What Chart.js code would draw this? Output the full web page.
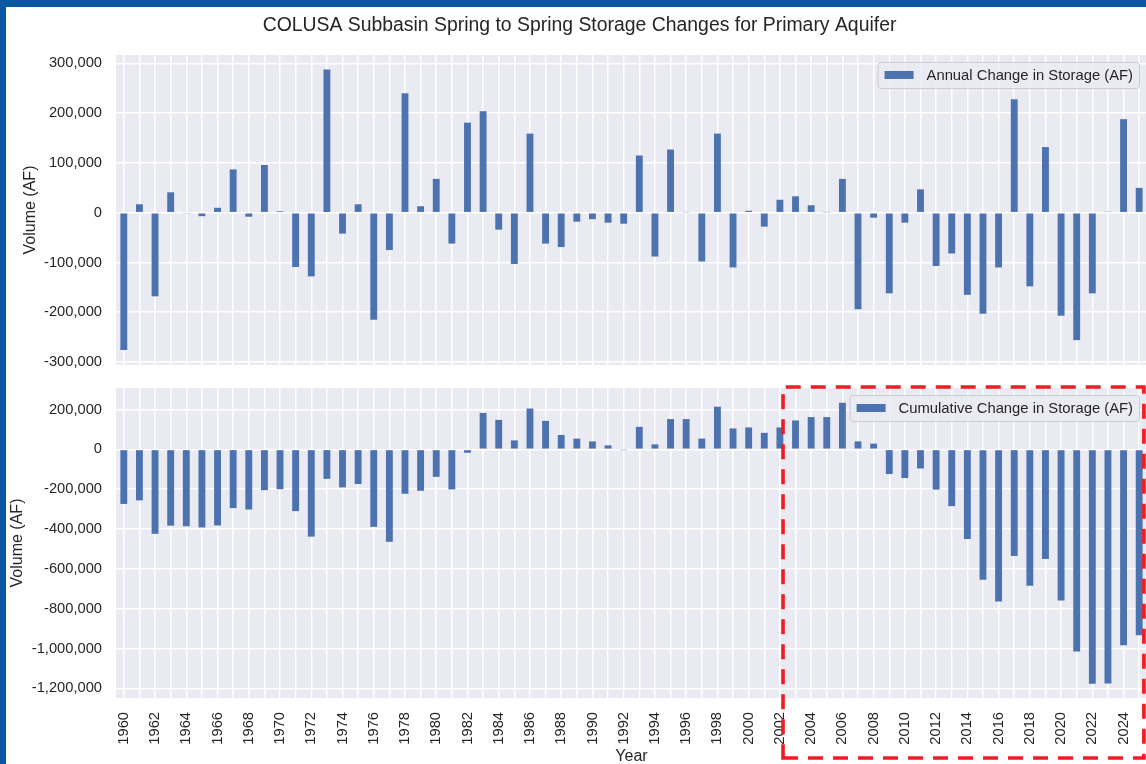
<!DOCTYPE html>
<html><head><meta charset="utf-8">
<script src="https://cdn.jsdelivr.net/npm/chart.js@4/dist/chart.umd.min.js"></script>
<style>
html,body{margin:0;padding:0;background:#fff;}
#wrap{position:relative;width:1146px;height:764px;overflow:hidden;background:#fff;}
#c1{position:absolute;left:0;top:0;}
#c2{position:absolute;left:0;top:380px;}
.frameTop{position:absolute;left:0;top:0;width:1146px;height:7px;background:#0b56a0;}
.frameLeft{position:absolute;left:0;top:0;width:6px;height:764px;background:#0b56a0;}
</style></head>
<body><div id="wrap">
<canvas id="c1" width="1148" height="380"></canvas>
<canvas id="c2" width="1148" height="400"></canvas>
<div class="frameTop"></div><div class="frameLeft"></div>
</div>
<script>
const years = ['1960','1961','1962','1963','1964','1965','1966','1967','1968','1969',
 '1970','1971','1972','1973','1974','1975','1976','1977','1978','1979',
 '1980','1981','1982','1983','1984','1985','1986','1987','1988','1989',
 '1990','1991','1992','1993','1994','1995','1996','1997','1998','1999',
 '2000','2001','2002','2003','2004','2005','2006','2007','2008','2009',
 '2010','2011','2012','2013','2014','2015','2016','2017','2018','2019',
 '2020','2021','2022','2023','2024','2025'];

const annualChange = [-276000,17000,-168000,41000,-2000,-7000,10000,87000,-8000,96000,
 3000,-109000,-128000,288000,-42000,17000,-215000,-75000,240000,13000,
 68000,-62000,181000,204000,-34000,-103000,159000,-62000,-69000,-18000,
 -13000,-20000,-22000,115000,-88000,127000,1000,-98000,159000,-110000,
 4000,-28000,26000,33000,15000,1000,68000,-194000,-10000,-162000,
 -20000,47000,-107000,-82000,-165000,-203000,-110000,228000,-148000,132000,
 -207000,-256000,-162000,2000,188000,50000];

const cumulativeChange = [-274000,-256000,-424000,-383000,-386000,-392000,-382000,-295000,-302000,-205000,
 -200000,-310000,-438000,-148000,-191000,-174000,-389000,-464000,-223000,-208000,
 -138000,-201000,-17000,183000,148000,45000,205000,143000,72000,54000,
 40000,20000,-2000,113000,25000,152000,152000,54000,214000,105000,
 110000,83000,110000,145000,162000,162000,234000,40000,29000,-124000,
 -144000,-96000,-202000,-285000,-450000,-655000,-764000,-535000,-684000,-550000,
 -758000,-1014000,-1177000,-1175000,-983000,-933000];

const annualTicks = [-300000,-200000,-100000,0,100000,200000,300000];
const cumulativeTicks = [-1200000,-1000000,-800000,-600000,-400000,-200000,0,200000];
const annualRange = [-306000, 317000];
const cumulativeRange = [-1248000, 308000];
const highlightFrom = '2002', highlightTo = '2025';

const FONT = '"Liberation Sans", Arial, Helvetica, sans-serif';
Chart.defaults.font.family = FONT;
Chart.defaults.color = '#262626';
Chart.defaults.animation = false;

const fmt = v => Number(v).toLocaleString('en-US');

const plotBg = {
  id: 'plotBg',
  beforeDraw(chart) {
    const {ctx, chartArea: a} = chart;
    ctx.save();
    ctx.fillStyle = '#EAEAF2';
    ctx.fillRect(a.left, a.top, a.width, a.height);
    ctx.restore();
  }
};

const innerLegend = {
  id: 'innerLegend',
  afterDatasetsDraw(chart) {
    const {ctx, chartArea: a} = chart;
    const ds = chart.data.datasets[0];
    ctx.save();
    ctx.font = '14.8px ' + FONT;
    const tw = ctx.measureText(ds.label).width;
    const w = 7 + 29 + 13 + tw + 6, h = 26;
    const x = a.right - 8 - w, y = a.top + 7;
    ctx.beginPath();
    ctx.roundRect(x + 0.5, y + 0.5, w, h, 3);
    ctx.fillStyle = 'rgba(234,234,242,0.85)';
    ctx.fill();
    ctx.strokeStyle = '#cccccc';
    ctx.lineWidth = 1;
    ctx.stroke();
    ctx.fillStyle = ds.backgroundColor;
    ctx.fillRect(x + 7, y + h / 2 - 4, 29, 8);
    ctx.fillStyle = '#262626';
    ctx.textBaseline = 'middle';
    ctx.textAlign = 'left';
    ctx.fillText(ds.label, x + 49, y + h / 2 + 0.5);
    ctx.restore();
  }
};

const highlightBox = {
  id: 'highlightBox',
  afterDraw(chart) {
    const {ctx, chartArea: a} = chart;
    const xs = chart.scales.x;
    const step = xs.getPixelForValue(1) - xs.getPixelForValue(0);
    const left = xs.getPixelForValue(years.indexOf(highlightFrom)) + 0.2 * step;
    const right = xs.getPixelForValue(years.indexOf(highlightTo)) + 0.3 * step;
    const top = a.top - 1;
    const bottom = a.bottom + 60;
    ctx.save();
    ctx.strokeStyle = '#ee1d23';
    ctx.lineWidth = 3.6;
    ctx.setLineDash([15, 10]);
    ctx.beginPath();
    ctx.moveTo(left, bottom);
    ctx.lineTo(right, bottom);
    ctx.lineTo(right, top);
    ctx.lineTo(left, top);
    ctx.closePath();
    ctx.stroke();
    ctx.restore();
  }
};

function makeChart(id, cfg) {
  return new Chart(document.getElementById(id), {
    type: 'bar',
    data: {
      labels: years,
      datasets: [{
        label: cfg.label,
        data: cfg.data,
        backgroundColor: '#4C72B0',
        barPercentage: 0.44,
        categoryPercentage: 1.0
      }]
    },
    options: {
      responsive: false,
      devicePixelRatio: 1,
      animation: false,
      layout: { padding: cfg.padding },
      plugins: {
        legend: { display: false },
        tooltip: { enabled: false },
        title: cfg.title ? {
          display: true, text: cfg.title, color: '#262626',
          font: { size: 19.4, weight: 'normal' },
          padding: { top: 13.9, bottom: 17.8 }
        } : { display: false }
      },
      scales: {
        x: {
          offset: true,
          grid: { offset: false, color: '#ffffff', lineWidth: 1.5, drawTicks: false },
          border: { display: false },
          ticks: {
            display: cfg.showX,
            autoSkip: false,
            minRotation: 90, maxRotation: 90,
            padding: 14,
            font: { size: 14.7 },
            color: '#262626',
            callback: (v, i) => (i % 2 === 0 ? years[i] : '')
          },
          title: cfg.showX ? { display: true, text: 'Year', font: { size: 16 }, color: '#262626', padding: { top: 0, bottom: 0 } } : { display: false },
          afterFit(s) { s.height = cfg.xHeight; s.paddingLeft = 0; s.paddingRight = 0; }
        },
        y: {
          min: cfg.range[0], max: cfg.range[1],
          grid: { color: '#ffffff', lineWidth: 1.6, drawTicks: false },
          border: { display: false },
          ticks: { padding: 14, font: { size: 14.7 }, color: '#262626', callback: v => fmt(v) },
          title: { display: true, text: 'Volume (AF)', font: { size: 16 }, color: '#262626', padding: { top: cfg.yTitlePad, bottom: 0 } },
          afterBuildTicks(s) { s.ticks = cfg.ticks.map(v => ({ value: v })); },
          afterFit(s) { s.width = cfg.yWidth; s.paddingTop = 0; s.paddingBottom = 0; }
        }
      }
    },
    plugins: cfg.extraPlugins
  });
}

makeChart('c1', {
  label: 'Annual Change in Storage (AF)',
  data: annualChange,
  ticks: annualTicks,
  range: annualRange,
  title: 'COLUSA Subbasin Spring to Spring Storage Changes for Primary Aquifer',
  padding: { left: 12, right: 1, top: 0, bottom: 15 },
  showX: false,
  xHeight: 0,
  yWidth: 104,
  yTitlePad: 9.4,
  extraPlugins: [plotBg, innerLegend]
});

makeChart('c2', {
  label: 'Cumulative Change in Storage (AF)',
  data: cumulativeChange,
  ticks: cumulativeTicks,
  range: cumulativeRange,
  title: null,
  padding: { left: 0, right: 1, top: 8, bottom: 14 },
  showX: true,
  xHeight: 68,
  yWidth: 116,
  yTitlePad: 8.4,
  extraPlugins: [plotBg, innerLegend, highlightBox]
});
</script>
</body></html>
